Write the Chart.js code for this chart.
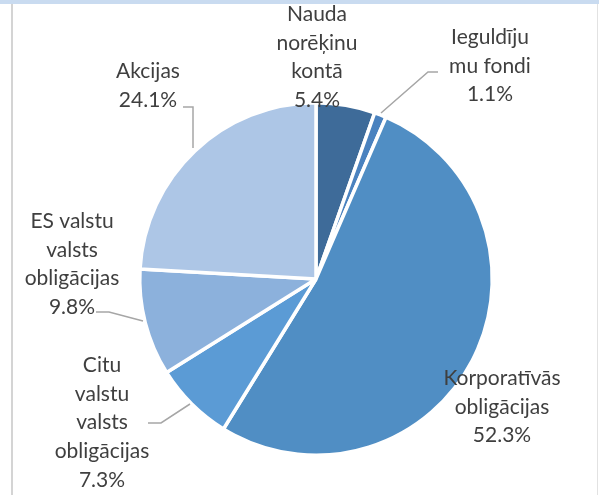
<!DOCTYPE html>
<html>
<head>
<meta charset="utf-8">
<script src="https://cdn.jsdelivr.net/npm/chart.js@4.4.1/dist/chart.umd.min.js"></script>
<style>
html,body{margin:0;padding:0;background:#fff;}
#wrap{position:relative;width:599px;height:495px;overflow:hidden;}
#topband{position:absolute;left:0;top:0;width:599px;height:4px;background:#c9dbf0;}
#lline{position:absolute;left:11px;top:4px;width:2px;height:491px;background:#d4d4d4;}
#rline{position:absolute;left:597px;top:4px;width:1px;height:491px;background:#e2e2e2;}
canvas{position:absolute;left:0;top:0;}
</style>
</head>
<body>
<div id="wrap">
<canvas id="c" width="599" height="495"></canvas>
<div id="topband"></div><div id="lline"></div><div id="rline"></div>
</div>
<script>
const categories = [
  ["Nauda", "norēķinu", "kontā"],
  ["Ieguldīju", "mu fondi"],
  ["Korporatīvās", "obligācijas"],
  ["Citu", "valstu", "valsts", "obligācijas"],
  ["ES valstu", "valsts", "obligācijas"],
  ["Akcijas"]
];
const values = [5.4, 1.1, 52.3, 7.3, 9.8, 24.1];
const colors = ["#3e6b99", "#4a82bf", "#508ec4", "#5b9bd5", "#8cb1dc", "#adc6e6"];

// label layout: center x, first-line y, and leader polyline (layout only)
const labelLayout = [
  {x: 317, y: 14, leader: null},
  {x: 490, y: 37, leader: [[438,72],[428,72],[381,113]]},
  {x: 502, y: 378, leader: null},
  {x: 102, y: 365, leader: [[148,423],[161,423],[190,404]]},
  {x: 72, y: 221, leader: [[96,312],[109,312],[143,321]]},
  {x: 148, y: 71, leader: [[183,107],[193,107],[193,148]]}
];

const labelPlugin = {
  id: 'labels',
  afterDraw(chart) {
    const ctx = chart.ctx;
    ctx.save();
    ctx.strokeStyle = '#a6a6a6';
    ctx.lineWidth = 1.5;
    labelLayout.forEach(l => {
      if (!l.leader) return;
      ctx.beginPath();
      l.leader.forEach((p, i) => i ? ctx.lineTo(p[0], p[1]) : ctx.moveTo(p[0], p[1]));
      ctx.stroke();
    });
    ctx.fillStyle = '#3f3f3f';
    ctx.font = '21px Lato, "Open Sans", sans-serif';
    ctx.textAlign = 'center';
    ctx.textBaseline = 'middle';
    const lh = 28.8;
    categories.forEach((lines, i) => {
      const l = labelLayout[i];
      const all = lines.concat([values[i].toFixed(1) + '%']);
      all.forEach((t, j) => ctx.fillText(t, l.x, l.y + j * lh));
    });
    ctx.restore();
  }
};

new Chart(document.getElementById('c'), {
  type: 'pie',
  data: {
    labels: categories.map(c => c.join(' ')),
    datasets: [{
      data: values,
      backgroundColor: colors,
      borderColor: '#ffffff',
      borderWidth: 3.5
    }]
  },
  options: {
    responsive: false,
    animation: false,
    layout: {padding: {top: 101, bottom: 38, left: 138, right: 105}},
    plugins: {legend: {display: false}, tooltip: {enabled: false}}
  },
  plugins: [labelPlugin]
});
</script>
</body>
</html>
